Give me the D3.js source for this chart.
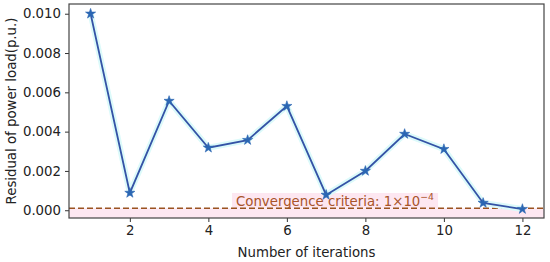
<!DOCTYPE html>
<html><head><meta charset="utf-8">
<script src="https://cdn.jsdelivr.net/npm/d3@7"></script>
<style>body{margin:0;background:#fff}svg{display:block;font-family:"DejaVu Sans",sans-serif}</style>
</head><body><svg id="c" width="550" height="262"></svg>
<script>
const iterations = [1,2,3,4,5,6,7,8,9,10,11,12];
const residuals = [0.0100,0.00088,0.00556,0.00318,0.00357,0.0053,0.00078,0.0020,0.00388,0.00311,0.00037,0.00006];
const xTicks = [2,4,6,8,10,12];
const yTicks = [0,0.002,0.004,0.006,0.008,0.010];
const criterion = 0.0001;

const svg = d3.select("#c");
const m = {l:69, r:544, t:4, b:218};
const x = d3.scaleLinear().domain([0.45,12.55]).range([m.l,m.r]);
const y = d3.scaleLinear().domain([-0.000395,0.010495]).range([m.b,m.t]);

// pink band below criterion
svg.append("rect").attr("x",m.l).attr("width",m.r-m.l)
  .attr("y",y(criterion)).attr("height",m.b-y(criterion)).attr("fill","#fde7f1");

// text background + text
const tg = svg.append("g");
const txt = tg.append("text").attr("x",236).attr("y",206).attr("font-size",13.3).attr("fill","#a9542a");
txt.append("tspan").text("Convergence criteria: 1×10");
txt.append("tspan").attr("dy",-6).attr("font-size",9.3).text("−4");
const bb = txt.node().getBBox();
tg.insert("rect","text").attr("x",bb.x-4).attr("y",193).attr("width",bb.width+8).attr("height",y(criterion)-193).attr("fill","#fde7f1");

// dashed criterion line
svg.append("line").attr("x1",m.l).attr("x2",m.r).attr("y1",y(criterion)).attr("y2",y(criterion))
  .attr("stroke","#9a5320").attr("stroke-width",1.7).attr("stroke-dasharray","6,3");

// series
const line = d3.line().x((d,i)=>x(iterations[i])).y(d=>y(d));
svg.append("path").datum(residuals).attr("d",line).attr("fill","none")
  .attr("stroke","#dcfafa").attr("stroke-width",6).attr("stroke-linejoin","round");
svg.append("path").datum(residuals).attr("d",line).attr("fill","none")
  .attr("stroke","#3453a6").attr("stroke-width",1.8);
const star = d3.symbol().type(d3.symbolStar).size(32);
svg.selectAll(".pt").data(residuals).join("path").attr("class","pt")
  .attr("transform",(d,i)=>`translate(${x(iterations[i])},${y(d)})`)
  .attr("d",star).attr("fill","#2b66b3").attr("stroke","#2b66b3").attr("stroke-width",0.6);

// axes
const xa = svg.append("g").attr("transform",`translate(0,${m.b})`)
  .call(d3.axisBottom(x).tickValues(xTicks).tickSize(4).tickPadding(4).tickFormat(d3.format("d")));
const ya = svg.append("g").attr("transform",`translate(${m.l},0)`)
  .call(d3.axisLeft(y).tickValues(yTicks).tickSize(4).tickPadding(4).tickFormat(d3.format(".3f")));
[xa,ya].forEach(a=>{a.select(".domain").remove();
  a.selectAll("text").attr("font-size",13.3).attr("fill","#222").attr("font-family","DejaVu Sans");
  a.selectAll("line").attr("stroke","#333");});

// frame
svg.append("rect").attr("x",m.l).attr("y",m.t).attr("width",m.r-m.l).attr("height",m.b-m.t)
  .attr("fill","none").attr("stroke","#444").attr("stroke-width",1.2);

// labels
svg.append("text").attr("x",(m.l+m.r)/2).attr("y",257).attr("text-anchor","middle")
  .attr("font-size",13.3).attr("fill","#222").text("Number of iterations");
svg.append("text").attr("transform",`translate(16,${(m.t+m.b)/2}) rotate(-90)`).attr("text-anchor","middle")
  .attr("font-size",13.3).attr("fill","#222").text("Residual of power load(p.u.)");
</script></body></html>
